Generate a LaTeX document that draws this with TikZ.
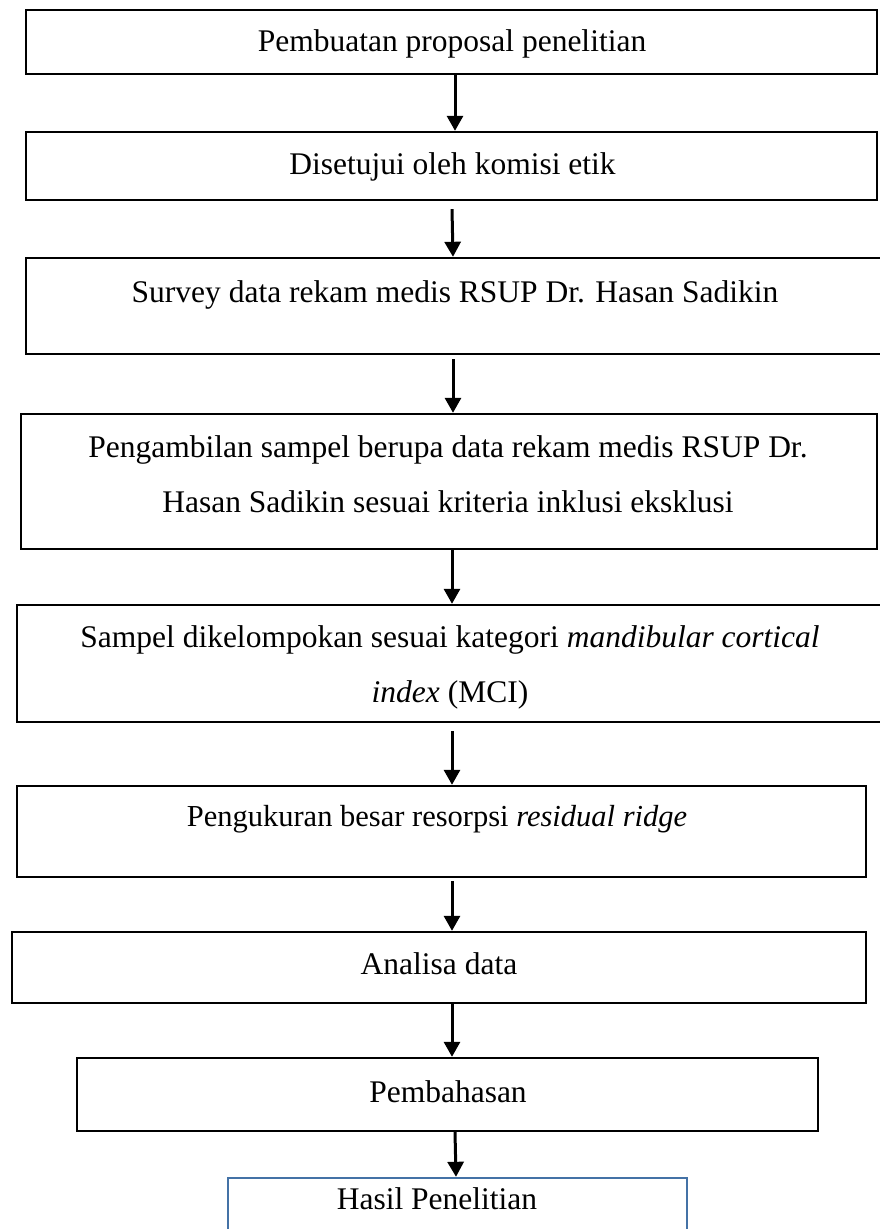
\documentclass[tikz,border=0pt]{standalone}
\usepackage{fontspec}
\setmainfont{Liberation Serif}
\usetikzlibrary{arrows.meta,calc}
\definecolor{boxblue}{RGB}{68,114,166}
\begin{document}
\begin{tikzpicture}[x=1pt,y=-1pt,
  box/.style={draw=black, line width=2.4pt, inner sep=0pt},
  txt/.style={font=\fontsize{31.5}{55}\selectfont, inner sep=0pt, anchor=base, align=center},
  arr/.style={line width=3pt, -{Triangle[width=16pt,length=15pt]}}]
\useasboundingbox (0,0) rectangle (880,1229);
\clip (0,0) rectangle (880,1229);
% boxes
\node[box, minimum width=851pt, minimum height=64pt] (b1) at (451.5,42) {};
\node[box, minimum width=851pt, minimum height=68pt] (b2) at (451.5,166) {};
\node[box, minimum width=864pt, minimum height=96pt] (b3) at (458,306) {};
\node[box, minimum width=856pt, minimum height=135pt] (b4) at (449,481.5) {};
\node[box, minimum width=873pt, minimum height=117pt] (b5) at (453.5,663.5) {};
\node[box, minimum width=849pt, minimum height=91pt] (b6) at (441.5,831.5) {};
\node[box, minimum width=854pt, minimum height=71pt] (b7) at (439,967.5) {};
\node[box, minimum width=741pt, minimum height=73pt] (b8) at (447.5,1094.5) {};
\node[box, draw=boxblue, minimum width=459pt, minimum height=72pt] (b9) at (457.5,1214) {};
% texts
\node[txt] (t1) at (452,51.5) {Pembuatan proposal penelitian};
\node[txt] (t2) at (452.5,174) {Disetujui oleh komisi etik};
\node[txt] (t3) at (455,302) {Survey data rekam medis RSUP Dr. Hasan Sadikin};
\node[txt] (t4) at (448,512) {Pengambilan sampel berupa data rekam medis RSUP Dr.\\ Hasan Sadikin sesuai kriteria inklusi eksklusi};
\node[txt] (t5) at (450,702) {Sampel dikelompokan sesuai kategori \textit{mandibular cortical}\\ \textit{index} (MCI)};
\node[txt, font=\fontsize{30.5}{55}\selectfont] (t6) at (437,826) {Pengukuran besar resorpsi \textit{residual ridge}};
\node[txt] (t7) at (439,974) {Analisa data};
\node[txt] (t8) at (448,1102) {Pembahasan};
\node[txt] (t9) at (437,1209) {Hasil Penelitian};
% connectors
\draw[arr] ($(b1.south)+(3.5,0)$) -- ($(b2.north)+(3.5,0)$);
\draw[arr] ($(b2.south)+(0.5,8)$) -- ($(b3.north)+(-5,0)$);
\draw[arr] ($(b3.south)+(-5,4)$) -- ($(b4.north)+(4,0)$);
\draw[arr] ($(b4.south)+(3,0)$) -- ($(b5.north)+(-1.5,0)$);
\draw[arr] ($(b5.south)+(-1.5,8)$) -- ($(b6.north)+(10.5,0)$);
\draw[arr] ($(b6.south)+(10.5,3)$) -- ($(b7.north)+(13,0)$);
\draw[arr] ($(b7.south)+(13,0)$) -- ($(b8.north)+(4.5,0)$);
\draw[arr] ($(b8.south)+(7.5,0)$) -- ($(b9.north)+(-1.5,0)$);
\end{tikzpicture}
\end{document}
